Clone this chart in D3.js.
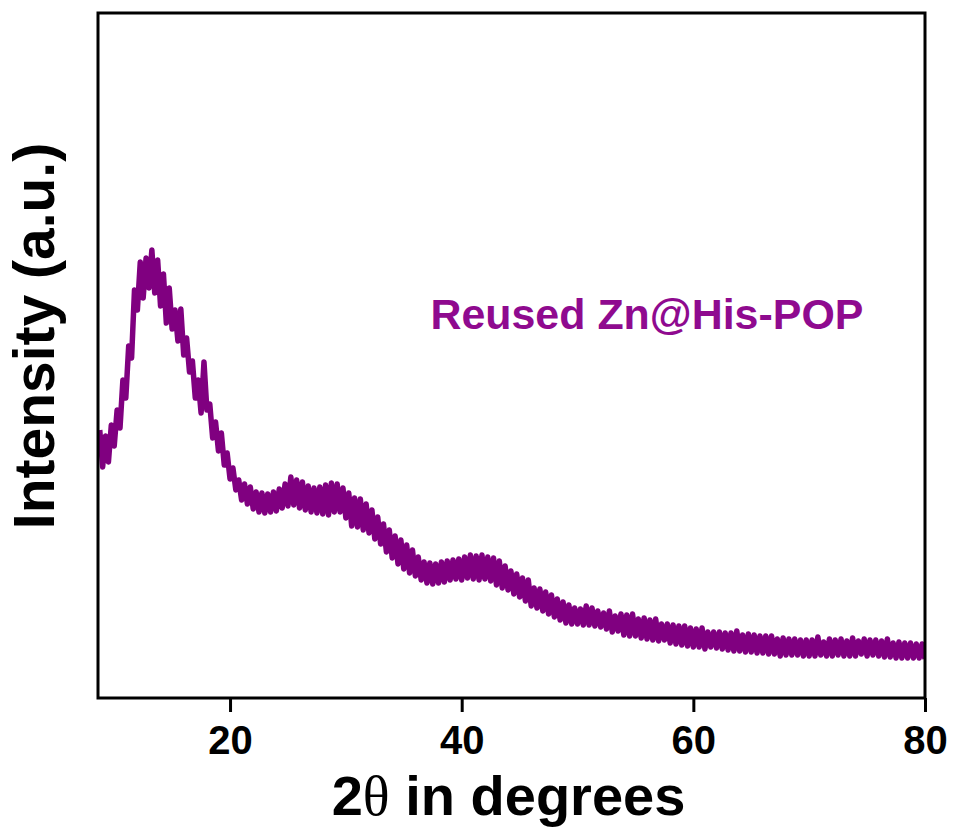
<!DOCTYPE html>
<html>
<head>
<meta charset="utf-8">
<script src="https://cdn.jsdelivr.net/npm/d3@7"></script>
<style>
  html, body { margin: 0; padding: 0; background: #ffffff; }
  svg { display: block; }
</style>
</head>
<body>
<svg id="chart" width="955" height="832"></svg>
<script>
// ---- data ----
const startAngle = 8.75;   // first 2θ sample (degrees)
const angleStep = 0.25;    // 2θ sampling interval (degrees)
const intensity = [
  268,231,262,236, 273,252,288,270, 318,300,352,340, 408,388,436,400,
  440,410,448,405, 438,392,424,375, 410,369,388,357, 389,343,360,326,
  337,300,318,285, 336,288,294,260, 276,247,265,233, 245,219,230,208,
  218,198,214,194, 211,189,206,186, 205,185,204,186, 206,187,209,190,
  214,192,221,193, 218,190,216,188, 212,186,210,185, 211,184,213,183,
  215,186,214,186, 210,180,205,172, 200,171,199,168, 194,165,188,159,
  181,154,174,146, 168,140,162,134, 158,129,153,125, 148,122,141,118,
  136,115,135,114, 134,115,136,116, 137,118,138,119, 139,118,141,120,
  143,119,142,118, 143,119,141,117, 140,113,137,110, 132,108,127,104,
  124,101,120,97,  118,92,110,90,   109,87,106,84,   103,81,99,78,
  96,75,93,74,     90,74,89,73,     92,73,90,72,     87,71,85,69,
  87,66,82,67,     84,63,83,62,     84,62,79,60,     80,59,78,58,
  79,57,74,58,     74,55,73,54,     72,53,72,52,     70,51,69,51,
  70,49,66,51,     66,50,66,49,     65,48,65,47,     67,47,63,46,
  64,46,63,45,     62,45,62,44,     62,44,59,42,     60,43,59,43,
  59,43,58,42,     58,42,58,42,     61,43,56,42,     59,42,58,43,
  59,42,57,42,     60,42,57,44,     59,42,58,43,     58,42,57,41,
  59,41,55,40,     56,40,55,40,     55,40,54,40,     54,39
];
const xTicks = [20, 40, 60, 80];
const xDomain = [8.6, 80];
const yDomain = [0, 685];
const seriesLabel = "Reused Zn@His-POP";
const xTitleParts = ["2", "θ", " in degrees"];
const yTitle = "Intensity (a.u.)";

// ---- layout ----
const margin = { top: 13, right: 30, bottom: 134, left: 98 };
const W = 955, H = 832;
const iw = W - margin.left - margin.right;
const ih = H - margin.top - margin.bottom;
const purple = "#800080";

const svg = d3.select("#chart");
const g = svg.append("g").attr("transform", `translate(${margin.left},${margin.top})`);

const x = d3.scaleLinear().domain(xDomain).range([0, iw]);
const y = d3.scaleLinear().domain(yDomain).range([ih, 0]);

const data = intensity.map((v, i) => ({ a: startAngle + i * angleStep, v }));

// clip
svg.append("defs").append("clipPath").attr("id", "clip")
  .append("rect").attr("x", 0).attr("y", 0).attr("width", iw).attr("height", ih);

// line
const line = d3.line().x(d => x(d.a)).y(d => y(d.v));
g.append("path")
  .datum(data)
  .attr("clip-path", "url(#clip)")
  .attr("fill", "none")
  .attr("stroke", purple)
  .attr("stroke-width", 5.5)
  .attr("stroke-linejoin", "round")
  .attr("d", line);

// frame
g.append("rect")
  .attr("x", 0).attr("y", 0).attr("width", iw).attr("height", ih)
  .attr("fill", "none").attr("stroke", "#000").attr("stroke-width", 3);

// x axis
const xAxis = d3.axisBottom(x).tickValues(xTicks).tickSize(14).tickPadding(14).tickFormat(d3.format("d"));
const ax = g.append("g").attr("transform", `translate(0,${ih})`).call(xAxis);
ax.select(".domain").remove();
ax.selectAll(".tick line").attr("stroke", "#000").attr("stroke-width", 3);
ax.selectAll(".tick text")
  .attr("fill", "#000")
  .attr("font-family", "Arial, 'Liberation Sans', sans-serif")
  .attr("font-weight", "bold")
  .attr("font-size", 40);

// x title
const xt = svg.append("text")
  .attr("x", margin.left + iw / 2 - 3)
  .attr("y", 815)
  .attr("text-anchor", "middle")
  .attr("font-family", "Arial, 'Liberation Sans', sans-serif")
  .attr("font-weight", "bold")
  .attr("font-size", 56)
  .attr("fill", "#000");
xt.append("tspan").text(xTitleParts[0]);
xt.append("tspan").attr("font-family", "'Liberation Serif', 'Times New Roman', serif").attr("font-weight", "normal").text(xTitleParts[1]);
xt.append("tspan").text(xTitleParts[2]);

// y title
svg.append("text")
  .attr("transform", `translate(54,336) rotate(-90)`)
  .attr("text-anchor", "middle")
  .attr("font-family", "Arial, 'Liberation Sans', sans-serif")
  .attr("font-weight", "bold")
  .attr("font-size", 57)
  .attr("fill", "#000")
  .text(yTitle);

// series label
g.append("text")
  .attr("x", x(37.3))
  .attr("y", y(698 - 329))
  .attr("font-family", "Arial, 'Liberation Sans', sans-serif")
  .attr("font-weight", "bold")
  .attr("font-size", 42)
  .attr("textLength", 433)
  .attr("lengthAdjust", "spacingAndGlyphs")
  .attr("fill", "#8f0a8f")
  .text(seriesLabel);
</script>
</body>
</html>
